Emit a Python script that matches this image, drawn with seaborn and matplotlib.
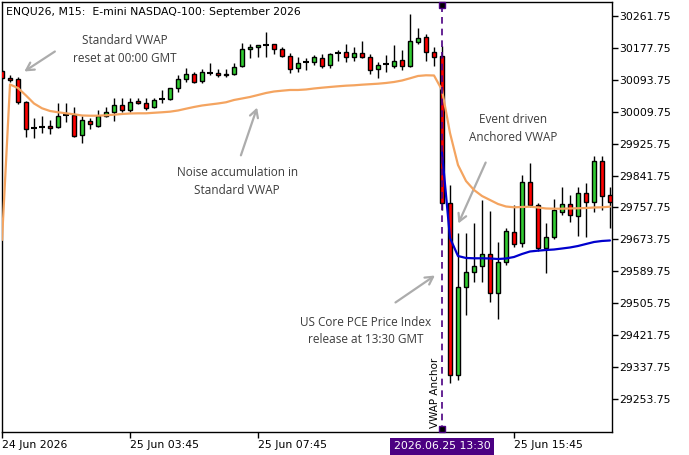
import numpy as np
import pandas as pd
import seaborn as sns
import matplotlib.pyplot as plt

# M15 bars, first visible bar is 24 Jun 23:45
bar_times = pd.date_range("2026-06-24 23:45", periods=77, freq="15min")

opens = [30116.4, 30098.0, 30095.4, 30035.7, 29967.0, 29970.0, 29972.7, 29968.4, 30000.0, 30000.8,
         29948.2, 29985.0, 29972.7, 29998.9, 30009.5, 30027.1, 30013.9, 30037.6, 30031.5, 30022.6,
         30042.0, 30042.0, 30071.0, 30094.6, 30107.7, 30090.9, 30110.4, 30110.4, 30107.2, 30108.5,
         30129.6, 30173.4, 30178.7, 30184.7, 30186.6, 30173.4, 30155.8, 30123.5, 30139.3, 30139.3,
         30149.8, 30132.2, 30164.5, 30165.6, 30154.0, 30162.9, 30152.4, 30120.9, 30134.8, 30130.3,
         30145.3, 30130.3, 30193.4, 30205.0, 30165.6, 30155.8, 29768.7, 29317.5, 29548.0, 29587.4,
         29604.7, 29635.5, 29533.8, 29615.2, 29694.1, 29663.6, 29825.5, 29764.3, 29650.5, 29681.0,
         29746.7, 29766.9, 29736.1, 29795.0, 29772.9, 29879.9, 29790.5]
highs = [30119.0, 30105.9, 30100.6, 30037.6, 29993.7, 29998.2, 29986.8, 30031.5, 30031.5, 30022.6,
         29998.2, 29992.1, 30013.9, 30022.6, 30046.2, 30046.2, 30046.2, 30046.2, 30044.7, 30044.7,
         30066.5, 30071.0, 30105.9, 30123.5, 30114.6, 30120.9, 30136.6, 30120.9, 30120.9, 30138.2,
         30189.2, 30187.4, 30185.5, 30219.7, 30186.6, 30180.3, 30162.9, 30152.4, 30149.8, 30158.5,
         30161.1, 30162.9, 30171.6, 30186.6, 30180.3, 30195.3, 30160.3, 30139.3, 30158.5, 30184.7,
         30171.6, 30265.4, 30228.6, 30212.9, 30180.3, 30182.1, 29816.8, 29689.9, 29689.9, 29717.7,
         29777.4, 29748.5, 29667.8, 29703.0, 29764.3, 29843.1, 29873.8, 29768.7, 29717.7, 29779.2,
         29812.4, 29790.5, 29812.4, 29821.3, 29893.0, 29893.0, 29812.4]
lows = [30095.4, 30087.5, 30028.9, 29943.7, 29939.5, 29952.7, 29951.6, 29965.8, 29983.2, 29943.7,
        29926.4, 29964.0, 29970.0, 29996.3, 29985.0, 30009.5, 30007.9, 30028.9, 30013.9, 30018.4,
        30033.1, 30040.2, 30062.0, 30088.3, 30084.1, 30084.1, 30105.9, 30101.4, 30101.4, 30105.9,
        30127.7, 30149.8, 30154.0, 30154.0, 30160.3, 30154.0, 30111.9, 30114.6, 30119.0, 30132.2,
        30125.1, 30125.1, 30142.7, 30140.9, 30142.7, 30151.4, 30108.5, 30098.8, 30114.6, 30123.5,
        30119.0, 30127.7, 30186.6, 30142.7, 30130.3, 29751.1, 29295.7, 29304.4, 29475.2, 29562.7,
        29562.7, 29510.1, 29463.9, 29606.6, 29654.7, 29654.7, 29759.8, 29644.2, 29586.3, 29674.1,
        29738.0, 29720.4, 29682.8, 29681.0, 29746.7, 29751.1, 29703.0]
closes = [30098.0, 30092.8, 30035.7, 29964.0, 29967.0, 29970.0, 29965.8, 29998.2, 30000.0, 29945.6,
          29987.6, 29976.3, 29998.2, 30009.5, 30027.1, 30013.9, 30034.2, 30031.5, 30018.4, 30040.2,
          30042.0, 30071.0, 30094.6, 30107.7, 30088.3, 30113.0, 30110.4, 30105.9, 30106.5, 30127.7,
          30173.4, 30178.7, 30184.7, 30184.7, 30173.4, 30155.8, 30120.9, 30138.2, 30139.3, 30154.0,
          30130.3, 30160.3, 30164.5, 30154.0, 30162.9, 30154.0, 30118.3, 30132.2, 30134.8, 30142.7,
          30130.3, 30195.3, 30202.3, 30165.6, 30154.0, 29768.7, 29317.5, 29548.0, 29587.4, 29604.0,
          29635.5, 29533.8, 29613.7, 29696.7, 29661.8, 29825.5, 29764.3, 29650.5, 29681.0, 29751.1,
          29766.9, 29738.0, 29795.0, 29772.9, 29879.9, 29787.9, 29772.9]

# standard VWAP (daily reset at 00:00 GMT)
std_vwap = [29672.3, 30080.9, 30071.7, 30052.0, 30031.0, 30018.4, 30011.3, 30007.9, 30005.2, 30002.6,
            29999.5, 29998.9, 29998.9, 30000.0, 30001.6, 30003.4, 30004.7, 30005.2, 30005.2, 30006.6,
            30007.9, 30009.5, 30012.6, 30017.3, 30021.8, 30025.7, 30028.4, 30031.0, 30034.2, 30040.2,
            30044.1, 30048.1, 30053.3, 30058.6, 30062.5, 30064.6, 30066.5, 30066.5, 30067.8, 30070.4,
            30072.5, 30074.4, 30076.2, 30077.8, 30078.8, 30080.4, 30081.7, 30083.0, 30084.9, 30087.5,
            30091.4, 30097.2, 30103.3, 30105.1, 30104.6, 30066.5, 29953.5, 29869.4, 29827.3, 29803.7,
            29787.9, 29777.4, 29766.9, 29760.3, 29758.2, 29759.0, 29759.8, 29757.7, 29755.1, 29754.5,
            29754.5, 29755.1, 29755.6, 29756.4, 29757.7, 29758.2, 29759.8]

# anchored VWAP, starts at the 13:30 bar
anchor_time = "2026-06-25 13:30"
anch_vwap = [29903.5, 29677.5, 29630.2, 29625.0, 29624.2, 29624.2, 29623.7, 29622.3, 29623.7, 29627.6,
             29635.5, 29642.1, 29644.2, 29646.0, 29647.3, 29649.9, 29652.6, 29656.5, 29661.8, 29667.0,
             29669.7, 29671.0]

y_ticks = [30261.75, 30177.75, 30093.75, 30009.75, 29925.75, 29841.75, 29757.75, 29673.75,
           29589.75, 29505.75, 29421.75, 29337.75, 29253.75]
x_tick_times = ["2026-06-24 23:45", "2026-06-25 03:45", "2026-06-25 07:45", "2026-06-25 15:45"]
x_tick_labels = ["24 Jun 2026", "25 Jun 03:45", "25 Jun 07:45", "25 Jun 15:45"]

sns.set_theme(style="white")
plt.rcParams["font.family"] = ["DejaVu Sans"]

df = pd.DataFrame({"time": bar_times, "open": opens, "high": highs, "low": lows,
                   "close": closes, "vwap": std_vwap})
df["bar"] = np.arange(len(df))
anchor_bar = int(df.index[df["time"] == pd.Timestamp(anchor_time)][0])
df_anch = pd.DataFrame({"bar": np.arange(anchor_bar, anchor_bar + len(anch_vwap)), "vwap": anch_vwap})

fig = plt.figure(figsize=(6.89, 4.55), dpi=100)
ax = fig.add_axes([2 / 689, 23 / 455, 610 / 689, 430 / 455])

# candles
up = df[df["close"] > df["open"]]
dn = df[df["close"] < df["open"]]
dj = df[df["close"] == df["open"]]
ax.vlines(df["bar"], df["low"], df["high"], color="black", lw=1, zorder=2)
ax.bar(up["bar"], up["close"] - up["open"], bottom=up["open"], width=0.62,
       color="#32cd32", edgecolor="black", lw=1, zorder=3)
ax.bar(dn["bar"], dn["open"] - dn["close"], bottom=dn["close"], width=0.62,
       color="#ff0000", edgecolor="black", lw=1, zorder=3)
ax.hlines(dj["open"], dj["bar"] - 0.35, dj["bar"] + 0.35, color="black", lw=1.5, zorder=3)

# vwap lines
sns.lineplot(data=df, x="bar", y="vwap", color="#f4a460", lw=1.6, ax=ax, zorder=4)
sns.lineplot(data=df_anch, x="bar", y="vwap", color="#0000cd", lw=1.6, ax=ax, zorder=5)

# anchor line
anchor_col = "#4b0082"
ax.axvline(anchor_bar, color=anchor_col, lw=1.2, ls=(0, (4, 3)), zorder=6)
trans = ax.get_xaxis_transform()
ax.plot([anchor_bar, anchor_bar], [0.006, 0.994], ls="none", marker="s", ms=4,
        mfc="black", mec=anchor_col, transform=trans, clip_on=False, zorder=7)
ax.text(anchor_bar - 0.2, 0.01, "VWAP Anchor", rotation=90, ha="right", va="bottom",
        fontsize=7.5, color="black", transform=trans)
ax.text(anchor_bar, -0.022, "2026.06.25 13:30", ha="center", va="top", fontsize=7.8,
        color="white", transform=trans, clip_on=False,
        bbox=dict(boxstyle="square,pad=0.32", fc=anchor_col, ec="none"))

# notes and arrows
note_kw = dict(ha="center", va="center", fontsize=8.5, color="#3c3c3c",
               family="Open Sans", linespacing=1.45)
arrow_kw = dict(arrowstyle="->,head_length=0.45,head_width=0.25", color="#acacac", lw=1.6)
ax.text(15.4, 30172.9, "Standard VWAP\nreset at 00:00 GMT", **note_kw)
ax.annotate("", xy=(2.5, 30111.2), xytext=(6.9, 30171.6), arrowprops=arrow_kw)
ax.text(29.4, 29826.0, "Noise accumulation in\nStandard VWAP", **note_kw)
ax.annotate("", xy=(32.0, 30027.1), xytext=(29.75, 29887.8), arrowprops=arrow_kw)
ax.text(63.9, 29965.3, "Event driven\nAnchored VWAP", **note_kw)
ax.annotate("", xy=(56.9, 29709.0), xytext=(60.6, 29882.5), arrowprops=arrow_kw)
ax.text(45.5, 29433.1, "US Core PCE Price Index\nrelease at 13:30 GMT", **note_kw)
ax.annotate("", xy=(54.4, 29583.0), xytext=(48.9, 29504.0), arrowprops=arrow_kw)

fig.text(6 / 689, 1 - 12 / 455, "ENQU26, M15:  E-mini NASDAQ-100: September 2026",
         ha="left", va="center", fontsize=7.8, color="black")

# axes
ax.set_xlim(0, 76.25)
ax.set_ylim(29167.7, 30297.7)
ax.yaxis.tick_right()
ax.set_yticks(y_ticks)
ax.set_yticklabels([f"{v:.2f}" for v in y_ticks])
x_tick_bars = [int(df.index[df["time"] == pd.Timestamp(t)][0]) for t in x_tick_times]
ax.set_xticks(x_tick_bars)
ax.set_xticklabels(x_tick_labels)
for lbl in ax.get_xticklabels():
    lbl.set_ha("left")
ax.tick_params(axis="both", direction="out", length=4, width=1, color="black",
               labelsize=7.8, labelcolor="black", pad=1.5)
ax.tick_params(axis="y", right=True, left=False)
ax.tick_params(axis="x", bottom=True)
for s in ax.spines.values():
    s.set_color("black")
    s.set_linewidth(1)
ax.set_xlabel("")
ax.set_ylabel("")
ax.grid(False)

fig.savefig("out.png", dpi=100, facecolor="white")
